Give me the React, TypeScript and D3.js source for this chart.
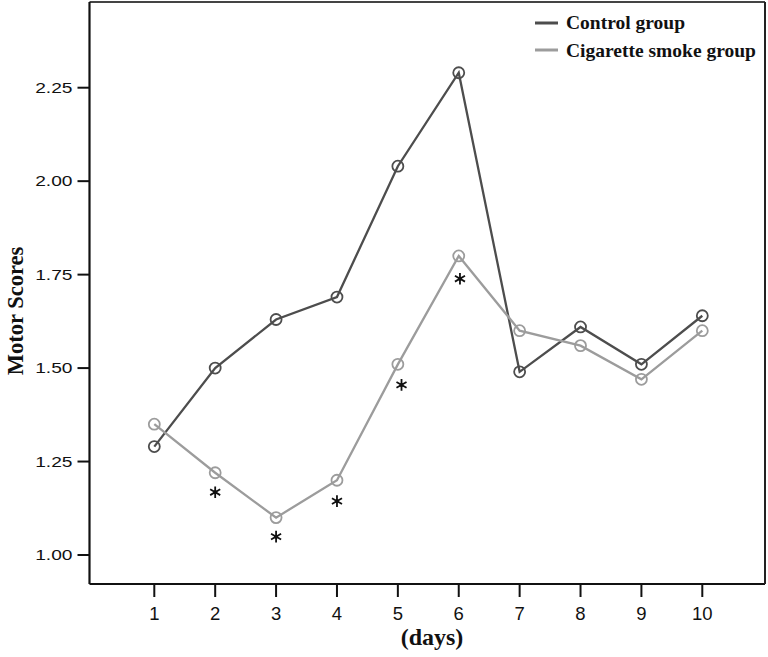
import React from "react";
import * as d3 from "d3";

const days = [1, 2, 3, 4, 5, 6, 7, 8, 9, 10];
const controlScores = [1.29, 1.5, 1.63, 1.69, 2.04, 2.29, 1.49, 1.61, 1.51, 1.64];
const smokeScores = [1.35, 1.22, 1.1, 1.2, 1.51, 1.8, 1.6, 1.56, 1.47, 1.6];
const yTicks = [1.0, 1.25, 1.5, 1.75, 2.0, 2.25];
const xTicks = [1, 2, 3, 4, 5, 6, 7, 8, 9, 10];
// significance markers (day, score position)
const starDays = [2, 3, 4, 5.06, 6.02];
const starScores = [1.168, 1.049, 1.144, 1.455, 1.739];
const seriesNames = ["Control group", "Cigarette smoke group"];
const seriesColors = ["#4d4d4d", "#9c9c9c"];

const W = 768;
const H = 657;
const frame = { left: 89.5, right: 765, top: 2, bottom: 584 };

export default function App() {
  const x = d3.scaleLinear().domain([1, 10]).range([154.3, 702.3]);
  const y = d3.scaleLinear().domain([1, 2.25]).range([555, 87.7]);
  const line = d3
    .line<number>()
    .x((_, i) => x(days[i]))
    .y((d) => y(d));
  const series = [controlScores, smokeScores];
  const star = d3.symbol().type(d3.symbolAsterisk).size(95)();

  return (
    <svg
      width={W}
      height={H}
      style={{ position: "absolute", left: 0, top: 0, background: "#fff" }}
    >
      <rect x={0} y={0} width={W} height={H} fill="#fff" />
      {/* frame */}
      <line x1={frame.left} x2={frame.right} y1={frame.top} y2={frame.top} stroke="#444" strokeWidth={2} />
      <line x1={frame.left} x2={frame.right} y1={frame.bottom} y2={frame.bottom} stroke="#111" strokeWidth={2.2} />
      <line x1={frame.left} x2={frame.left} y1={frame.top} y2={frame.bottom} stroke="#111" strokeWidth={2.2} />
      <line x1={frame.right} x2={frame.right} y1={frame.top} y2={frame.bottom} stroke="#222" strokeWidth={2} />

      {/* y axis ticks */}
      {yTicks.map((t) => (
        <g key={"y" + t}>
          <line x1={frame.left - 12} x2={frame.left} y1={y(t)} y2={y(t)} stroke="#111" strokeWidth={2} />
          <text
            transform={`translate(${frame.left - 17},${y(t)}) scale(1.28,1)`}
            textAnchor="end"
            dominantBaseline="central"
            fontFamily="'Liberation Sans', Arial, sans-serif"
            fontSize={15}
            fill="#111"
          >
            {t.toFixed(2)}
          </text>
        </g>
      ))}

      {/* x axis ticks */}
      {xTicks.map((t) => (
        <g key={"x" + t}>
          <line x1={x(t)} x2={x(t)} y1={frame.bottom} y2={frame.bottom + 13} stroke="#111" strokeWidth={2} />
          <text
            x={x(t)}
            y={frame.bottom + 35.5}
            textAnchor="middle"
            fontFamily="'Liberation Sans', Arial, sans-serif"
            fontSize={18.5}
            fill="#111"
          >
            {t}
          </text>
        </g>
      ))}

      {/* axis titles */}
      <text
        transform={`translate(23,${(245 + 377) / 2}) rotate(-90)`}
        textAnchor="middle"
        fontFamily="'Liberation Serif', 'Times New Roman', serif"
        fontWeight="bold"
        fontSize={22.5}
        fill="#111"
      >
        Motor Scores
      </text>
      <text
        x={432}
        y={645}
        textAnchor="middle"
        fontFamily="'Liberation Serif', 'Times New Roman', serif"
        fontWeight="bold"
        fontSize={24}
        fill="#111"
      >
        (days)
      </text>

      {/* series */}
      {series.map((s, si) => (
        <g key={"s" + si}>
          <path d={line(s) || ""} fill="none" stroke={seriesColors[si]} strokeWidth={2.3} />
          {s.map((v, i) => (
            <circle
              key={i}
              cx={x(days[i])}
              cy={y(v)}
              r={5.5}
              fill="none"
              stroke={seriesColors[si]}
              strokeWidth={1.8}
            />
          ))}
        </g>
      ))}

      {/* significance asterisks */}
      {starDays.map((d, i) => (
        <g key={"st" + i} transform={`translate(${x(d)},${y(starScores[i])})`}>
          <path d={star || ""} fill="none" stroke="#111" strokeWidth={1.8} />
          <circle r={2} fill="#111" />
        </g>
      ))}

      {/* legend */}
      {seriesNames.map((n, i) => (
        <g key={"l" + i}>
          <line x1={535} x2={558} y1={23 + i * 27} y2={23 + i * 27} stroke={seriesColors[i]} strokeWidth={3} />
          <text
            x={566}
            y={29 + i * 27.5}
            fontFamily="'Liberation Serif', 'Times New Roman', serif"
            fontWeight="bold"
            fontSize={19.5}
            fill="#111"
          >
            {n}
          </text>
        </g>
      ))}
    </svg>
  );
}
